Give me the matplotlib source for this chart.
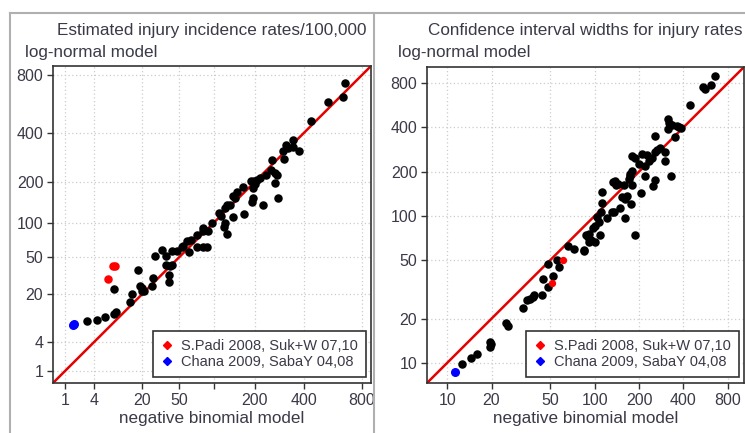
import numpy as np
import matplotlib.pyplot as plt
from matplotlib.lines import Line2D

plt.rcParams['font.family'] = ['Liberation Sans', 'DejaVu Sans']

# left panel: estimated incidence rates (negative binomial vs log-normal)
rate_nb = [662, 647, 542, 439, 346, 315, 324, 302, 346, 375, 306, 258, 254, 277, 269, 236,
           216, 206, 197, 188, 200, 165, 149, 269, 194, 281, 140, 145, 194, 190, 226, 126,
           133, 122, 111, 115, 168, 140, 96, 122, 120, 126, 81, 81, 89, 72, 64, 59, 54, 53,
           72, 81, 88, 48, 34, 43, 62, 28, 37, 37, 43, 41, 40, 40, 27, 26, 18, 19, 20, 21,
           20, 14, 15, 8.4, 3.0, 4.5, 6.1, 8.4, 9.0]
rate_ln = [732, 624, 588, 467, 365, 342, 328, 315, 332, 315, 282, 277, 240, 223, 230, 223,
           213, 207, 203, 203, 194, 185, 171, 197, 182, 153, 160, 155, 153, 145, 136, 136,
           138, 131, 120, 114, 118, 112, 100, 100, 93, 80, 90, 86, 85, 79, 71, 70, 64, 62,
           62, 62, 62, 57, 58, 57, 56, 51, 51, 42, 42, 41, 33, 28, 31, 25, 37, 25, 24, 22,
           22, 16, 20, 23, 8.9, 9.2, 10.2, 11.2, 11.9]
rate_red_nb = [8.1, 8.7, 7.0]
rate_red_ln = [41, 41, 30]
rate_blue_nb = [1.5, 1.6]
rate_blue_ln = [7.6, 7.9]

# right panel: confidence interval widths
ci_nb = [653, 614, 541, 558, 441, 316, 321, 337, 364, 376, 388, 316, 353, 258, 302, 302,
         279, 266, 258, 246, 234, 210, 227, 179, 188, 200, 220, 220, 179, 174, 171, 332,
         258, 250, 137, 133, 139, 158, 179, 112, 207, 174, 144, 153, 166, 160, 176, 112,
         148, 135, 131, 110, 160, 121, 103, 107, 100, 98, 108, 92, 90, 95, 100, 91, 188,
         87, 66, 73, 85, 85, 56, 48, 57, 52, 45, 48, 44, 39, 38, 36.5, 35, 32.6, 25, 25.8,
         19.4, 19.7, 19.4, 16, 14.4, 12.7]
ci_ln = [895, 777, 753, 729, 567, 455, 427, 413, 407, 401, 394, 388, 342, 348, 274, 238,
         288, 279, 270, 246, 238, 262, 258, 254, 246, 227, 217, 188, 203, 194, 179, 188,
         176, 160, 174, 171, 163, 163, 163, 146, 144, 188, 166, 135, 137, 131, 121, 123,
         113, 107, 107, 107, 97, 97, 98, 91, 85, 83, 74, 75, 72, 69, 66, 66, 74,
         74, 62, 60, 59, 58, 50, 47, 45, 39, 37, 33, 29, 29, 28, 27.4, 26.6, 23.8, 18.8, 17.9,
         13.9, 13.5, 12.9, 11.5, 10.8, 9.8]
ci_red_nb = [61, 51]
ci_red_ln = [50, 35]
ci_blue_nb = [11.3]
ci_blue_ln = [8.7]

left_ticks = [1, 4, 20, 50, 100, 200, 400, 800]
left_xlabels = ['1', '4', '20', '50', '', '200', '400', '800']
left_ylabels = ['1', '4', '20', '50', '100', '200', '400', '800']
right_ticks = [10, 20, 50, 100, 200, 400, 800]
right_labels = ['10', '20', '50', '100', '200', '400', '800']

txt = '#3a3a48'
fig = plt.figure(figsize=(7.45, 4.33), dpi=100)
ax1 = fig.add_axes([53/745, 50/433, 318/745, 317/433])
ax2 = fig.add_axes([427/745, 50/433, 317/745, 316/433])

fwd = lambda v: np.abs(v)**0.25
inv = lambda v: np.abs(v)**4


def style(ax, lim, ticks, xl, yl):
    ax.set_xlim(lim)
    ax.set_ylim(lim)
    ax.set_xticks(ticks)
    ax.set_xticklabels(xl)
    ax.set_yticks(ticks)
    ax.set_yticklabels(yl)
    ax.minorticks_off()
    ax.grid(True, color='#cccccc', linestyle=(0, (1, 2)), lw=0.9)
    ax.set_axisbelow(True)
    ax.tick_params(direction='out', length=4, width=1, colors='#333333',
                   labelcolor=txt, labelsize=11.5, pad=3)
    for s in ax.spines.values():
        s.set_color('#333333')
        s.set_linewidth(1.2)
    ax.plot(lim, lim, color='#e60000', lw=1.8, zorder=2)
    ax.set_xlabel('negative binomial model', fontsize=12.3, color=txt, labelpad=2)


for ax in (ax1, ax2):
    if ax is ax1:
        ax.set_xscale('function', functions=(fwd, inv))
        ax.set_yscale('function', functions=(fwd, inv))
        style(ax, (0.45, 885), left_ticks, left_xlabels, left_ylabels)
        ax.scatter(rate_nb, rate_ln, s=26, color='black', zorder=3)
        ax.scatter(rate_red_nb, rate_red_ln, s=26, color='#ff0000', zorder=3)
        ax.scatter(rate_blue_nb, rate_blue_ln, s=30, color='#0000ff', zorder=3)
    else:
        ax.set_xscale('log')
        ax.set_yscale('log')
        style(ax, (7.3, 1030), right_ticks, right_labels, right_labels)
        ax.scatter(ci_nb, ci_ln, s=26, color='black', zorder=3)
        ax.scatter(ci_red_nb, ci_red_ln, s=18, color='#ff0000', zorder=3)
        ax.scatter(ci_blue_nb, ci_blue_ln, s=30, color='#0000ff', zorder=3)
    h = [Line2D([], [], ls='none', marker='D', ms=4, color='#ff0000'),
         Line2D([], [], ls='none', marker='D', ms=4, color='#0000ff')]
    leg = ax.legend(h, ['S.Padi 2008, Suk+W 07,10', 'Chana 2009, SabaY 04,08'],
                    loc='lower right', bbox_to_anchor=(0.985, 0.018), borderaxespad=0,
                    fontsize=10.5, fancybox=False, framealpha=1, edgecolor='#333333',
                    handlelength=0.8, handletextpad=0.6, labelspacing=0.15,
                    borderpad=0.55, labelcolor=txt)
    leg.get_frame().set_linewidth(1.2)

fig.text(212/745, 1 - 30/433, 'Estimated injury incidence rates/100,000', ha='center',
         va='center', fontsize=12.3, color=txt)
fig.text(25/745, 1 - 53/433, 'log-normal model', ha='left', va='center', fontsize=12.3, color=txt)
fig.text(585/745, 1 - 30/433, 'Confidence interval widths for injury rates', ha='center',
         va='center', fontsize=12.3, color=txt)
fig.text(398/745, 1 - 53/433, 'log-normal model', ha='left', va='center', fontsize=12.3, color=txt)

# outer panel frames
fc = '#b0b0b0'
fig.add_artist(Line2D([10/745, 10/745], [0, 1 - 13/433], color=fc, lw=1.5))
fig.add_artist(Line2D([10/745, 1], [1 - 13/433, 1 - 13/433], color=fc, lw=1.5))
fig.add_artist(Line2D([374/745, 374/745], [0, 1 - 13/433], color=fc, lw=1.5))

fig.savefig('out.png', dpi=100)
